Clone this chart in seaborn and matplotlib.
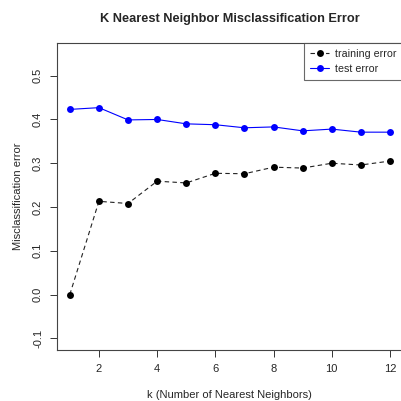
import matplotlib
matplotlib.use("Agg")
import matplotlib.pyplot as plt
import seaborn as sns
import pandas as pd

k_values = [1, 2, 3, 4, 5, 6, 7, 8, 9, 10, 11, 12]
training_error = [0.000, 0.213, 0.208, 0.259, 0.255, 0.277, 0.276, 0.291, 0.289, 0.300, 0.296, 0.305]
test_error = [0.423, 0.427, 0.399, 0.400, 0.390, 0.388, 0.381, 0.383, 0.374, 0.378, 0.371, 0.371]
x_ticks = [2, 4, 6, 8, 10, 12]
y_ticks = [-0.1, 0.0, 0.1, 0.2, 0.3, 0.4, 0.5]

sns.set_style("white")
plt.rcParams['font.family'] = ['Liberation Sans', 'DejaVu Sans']

df_train = pd.DataFrame({"k": k_values, "err": training_error})
df_test = pd.DataFrame({"k": k_values, "err": test_error})

fig = plt.figure(figsize=(4.02, 4.01), dpi=100)
W, H = 402, 401
left, right, top, bottom = 57, 402.8, 42.7, 350
ax = fig.add_axes([left / W, 1 - bottom / H, (right - left) / W, (bottom - top) / H])

sns.lineplot(data=df_train, x="k", y="err", ax=ax, color="#222222", linestyle=(0, (4, 3)),
             linewidth=0.8, marker="o", markersize=5, markeredgewidth=0,
             markerfacecolor="black", label="training error")
sns.lineplot(data=df_test, x="k", y="err", ax=ax, color="blue", linestyle="-",
             linewidth=0.8, marker="o", markersize=5, markeredgewidth=0, label="test error")

ax.set_xlim(0.56, 12.44)
ax.set_ylim(-0.1267, 0.5754)
ax.set_xticks(x_ticks)
ax.set_xticklabels([str(t) for t in x_ticks])
ax.set_yticks(y_ticks)
ax.set_yticklabels([f"{t:.1f}" for t in y_ticks], rotation=90, va="center")
ax.tick_params(axis="both", direction="out", length=5, width=0.7, color="#333333",
               labelsize=8, pad=5, bottom=True, left=True)
for s in ax.spines.values():
    s.set_color("#444444")
    s.set_linewidth(0.8)

ax.set_xlabel("k (Number of Nearest Neighbors)", fontsize=8, labelpad=11.5)
ax.set_ylabel("Misclassification error", fontsize=8, labelpad=7.5)
ax.set_title("K Nearest Neighbor Misclassification Error", fontsize=9.2, fontweight="bold", pad=15)

leg = ax.legend(loc="upper right", fontsize=7.7, frameon=True, fancybox=False,
                borderpad=0.55, labelspacing=0.5, handlelength=1.75, handletextpad=0.6,
                borderaxespad=0)
leg.get_frame().set_edgecolor("#444444")
leg.get_frame().set_linewidth(0.8)

fig.savefig("out.png", dpi=100)
